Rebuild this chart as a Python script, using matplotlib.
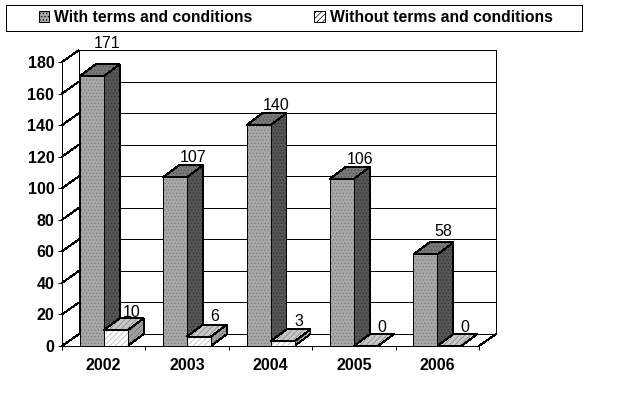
import matplotlib
matplotlib.use("Agg")
import matplotlib.pyplot as plt
from matplotlib.patches import Polygon, Patch, Rectangle

years = ['2002', '2003', '2004', '2005', '2006']
with_terms = [171, 107, 140, 106, 58]
without_terms = [10, 6, 3, 0, 0]
y_ticks = [0, 20, 40, 60, 80, 100, 120, 140, 160, 180]

plt.rcParams['font.family'] = ['Liberation Sans', 'DejaVu Sans']
plt.rcParams['hatch.linewidth'] = 0.5

W, H = 620, 396
fig = plt.figure(figsize=(W / 100, H / 100), dpi=100, facecolor='white')
ax = fig.add_axes([62 / W, 1 - 346 / H, 417 / W, 284 / H])
ax.set_xlim(-0.5, 4.5)
ax.set_ylim(0, 180)

# depth of the fake 3d, in data units
wall_dx = 17 / 83.4
wall_dy = 12 * 180 / 284
bar_dx = 16 / 83.4
bar_dy = wall_dy
bar_w = 24 / 83.4
lw = 0.72


def line(xs, ys, z=1):
    ax.plot(xs, ys, color='black', lw=lw, clip_on=False, zorder=z, antialiased=False,
            solid_capstyle='butt')


def face(pts, color, hatch, hatch_color, z):
    ax.add_patch(Polygon(pts, closed=True, facecolor=color, edgecolor=hatch_color, hatch=hatch,
                         lw=0, clip_on=False, zorder=z))
    ax.add_patch(Polygon(pts, closed=True, fill=False, edgecolor='black', lw=lw,
                         clip_on=False, zorder=z, antialiased=False))


def bar3d(x0, h, front, side, top, z):
    x1 = x0 + bar_w
    face([(x0, h), (x0 + bar_dx, h + bar_dy), (x1 + bar_dx, h + bar_dy), (x1, h)], *top, z)
    face([(x1, 0), (x1 + bar_dx, bar_dy), (x1 + bar_dx, h + bar_dy), (x1, h)], *side, z)
    if h > 0:
        face([(x0, 0), (x1, 0), (x1, h), (x0, h)], *front, z)


# back wall, gridlines and floor
left, right = -0.5, 4.5
for t in y_ticks:
    line([left, left + wall_dx], [t, t + wall_dy])
    line([left + wall_dx, right + wall_dx], [t + wall_dy, t + wall_dy])
line([left + wall_dx, left + wall_dx], [wall_dy, 180 + wall_dy])
line([right + wall_dx, right + wall_dx], [wall_dy, 180 + wall_dy])
line([right, right + wall_dx], [0, wall_dy])

with_style = dict(front=('#a8a8a8', '.....', '#787878'),
                  side=('#565656', '.....', '#303030'),
                  top=('#787878', '.....', '#505050'))
without_style = dict(front=('white', '//////', '#b0b0b0'),
                     side=('#a0a0a0', '//////', '#707070'),
                     top=('#c8c8c8', '//////', '#808080'))

for i in range(len(years)):
    z = 3 + i
    bar3d(i - bar_w, with_terms[i], z=z, **with_style)
    bar3d(i, without_terms[i], z=z, **without_style)

# data labels, a few sit off the regular spot in the original
with_up = {171: 8, 58: 2}
with_left = {171: 2.5}
without_up = {10: -1, 0: -1}
for i in range(len(years)):
    a = with_terms[i]
    b = without_terms[i]
    ax.text(i - bar_w / 2 + (18 - with_left.get(a, 0)) / 83.4, a + bar_dy + 2 + with_up.get(a, 0), str(a),
            ha='center', va='baseline', fontsize=11.5, zorder=20, clip_on=False)
    ax.text(i + bar_w / 2 + 16 / 83.4, b + bar_dy + 2 + without_up.get(b, 0), str(b),
            ha='center', va='baseline', fontsize=11.5, zorder=20, clip_on=False)

# axes
for s in ['top', 'right']:
    ax.spines[s].set_visible(False)
ax.patch.set_visible(False)
for s in ['left', 'bottom']:
    ax.spines[s].set_linewidth(lw)
    ax.spines[s].set_antialiased(False)
ax.set_yticks(y_ticks)
ax.set_xticks(range(len(years)))
ax.set_xticklabels(years)
ax.set_xticks([i - 0.5 for i in range(len(years) + 1)], minor=True)
ax.tick_params(axis='x', which='major', length=0, pad=9)
ax.tick_params(axis='x', which='minor', length=3, width=lw)
ax.tick_params(axis='y', length=3, width=lw, pad=2.5)
for t in ax.get_xticklabels() + ax.get_yticklabels():
    t.set_fontweight('bold')
    t.set_fontsize(11.5)

# legend box across the top
fig.add_artist(Rectangle((5.5 / W, 1 - 30.5 / H), 576 / W, 25 / H, transform=fig.transFigure,
                         facecolor='white', edgecolor='black', lw=lw, antialiased=False))
handles = [Patch(facecolor='#a8a8a8', edgecolor='black', hatch='.....', lw=lw),
           Patch(facecolor='white', edgecolor='black', hatch='//////', lw=lw)]
fig.legend(handles, ['With terms and conditions', 'Without terms and conditions'],
           loc='upper left', bbox_to_anchor=(39 / W, 1 - 10 / H), ncol=2, frameon=False,
           prop={'weight': 'bold', 'size': 11.3}, handlelength=0.65, handleheight=0.7,
           handletextpad=0.32, columnspacing=3.95, borderaxespad=0, borderpad=0)

fig.savefig('out.png', dpi=100)
